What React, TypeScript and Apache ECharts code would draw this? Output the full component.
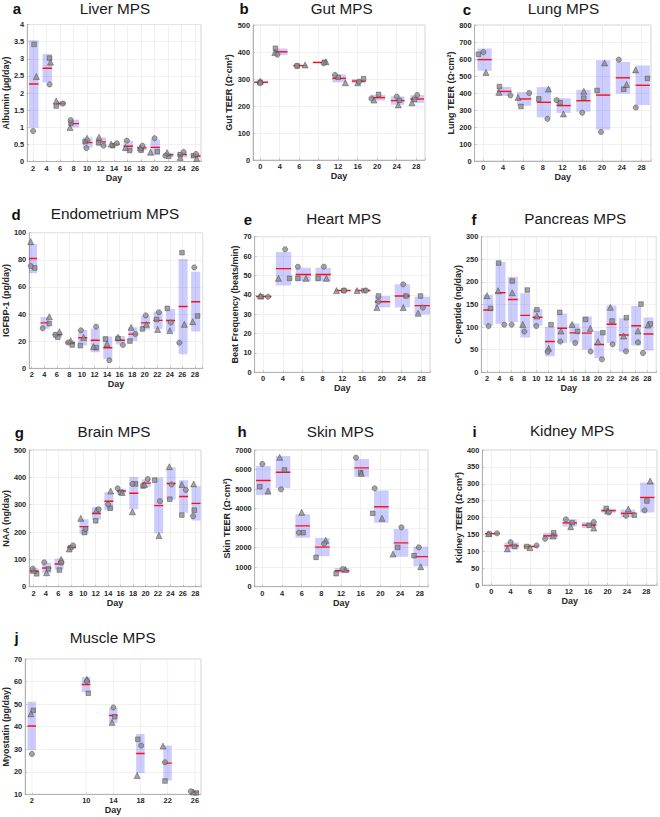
import React, { useEffect, useRef } from 'react';
import * as echarts from 'echarts';

// ---------------- data ----------------
// each group: three replicate values (circle / triangle / square) and the
// small horizontal jitter of each marker (in category units, days for Muscle)

const liverDays = ['2', '4', '6', '8', '10', '12', '14', '16', '18', '20', '22', '24', '26'];
const liverCircle = [0.89, 2.25, 1.69, 1.21, 0.39, 0.46, 0.53, 0.61, 0.46, 0.68, 0.17, 0.28, 0.22];
const liverCircleDx = [0, 0.22, 0.2, -0.22, -0.05, 0.22, 0.2, -0.05, 0.1, 0, -0.2, 0.15, 0.07];
const liverTriangle = [2.48, 2.9, 1.77, 0.99, 0.68, 0.71, 0.51, 0.41, 0.4, 0.27, 0.26, 0.12, 0.09];
const liverTriangleDx = [0.24, 0.29, -0.29, -0.27, 0, -0.12, -0.22, -0.15, -0.05, -0.3, -0.07, -0.1, 0.12];
const liverSquare = [3.42, 3.02, 1.62, 1.12, 0.58, 0.55, 0.46, 0.32, 0.33, 0.29, 0.15, 0.2, 0.17];
const liverSquareDx = [0.07, 0.22, -0.29, -0.2, -0.15, -0.15, -0.1, 0.15, 0, 0.2, 0.05, -0.1, -0.12];

const gutDays = ['0', '4', '6', '8', '12', '16', '20', '24', '28'];
const gutCircle = [284, 390, 349, 358, 315, 290, 228, 235, 241];
const gutCircleDx = [0, -0.12, -0.12, 0.25, -0.17, 0.07, -0.3, 0, 0.05];
const gutTriangle = [292, 398, 352, 364, 286, 286, 222, 204, 212];
const gutTriangleDx = [0, -0.25, 0.3, 0.37, 0.37, 0, -0.17, 0.08, -0.22];
const gutSquare = [288, 414, 348, 362, 306, 301, 243, 221, 225];
const gutSquareDx = [0, -0.22, -0.1, 0.3, 0, 0.3, 0.07, 0.14, -0.08];

const lungDays = ['0', '4', '6', '8', '12', '16', '20', '24', '28'];
const lungCircle = [640, 386, 400, 248, 358, 284, 171, 596, 314];
const lungCircleDx = [0, 0.37, 0.32, 0.24, -0.3, 0, -0.05, -0.15, -0.29];
const lungTriangle = [521, 404, 374, 423, 277, 410, 577, 450, 536];
const lungTriangleDx = [0.13, -0.22, -0.25, 0.29, 0.05, 0.08, 0.13, 0.24, -0.3];
const lungSquare = [628, 438, 321, 365, 343, 370, 415, 422, 486];
const lungSquareDx = [-0.25, -0.19, -0.1, -0.2, -0.12, 0.08, -0.25, 0.1, 0.3];

const endoDays = ['2', '4', '6', '8', '10', '12', '14', '16', '18', '20', '22', '24', '26', '28'];
const endoCircle = [75.4, 29.5, 24.6, 19.0, 28.0, 30.7, 5.9, 17.2, 25.3, 39.0, 41.3, 33.7, 18.9, 74.4];
const endoCircleDx = [-0.08, -0.13, -0.13, -0.08, -0.08, 0.13, 0.18, 0.26, 0.26, 0.08, 0.13, 0.08, -0.24, -0.05];
const endoTriangle = [93.4, 38.0, 27.0, 20.4, 22.8, 16.0, 18.0, 22.9, 30.2, 32.4, 28.7, 27.8, 32.4, 34.4];
const endoTriangleDx = [-0.08, 0.4, 0.2, 0.1, 0.13, -0.08, 0, -0.13, -0.08, 0.13, 0.03, 0, 0.16, -0.18];
const endoSquare = [74.0, 33.0, 22.9, 17.2, 16.7, 15.2, 21.6, 22.0, 20.1, 29.0, 36.0, 44.2, 85.3, 38.6];
const endoSquareDx = [0.24, 0.4, 0.08, 0.23, -0.13, 0.13, -0.13, -0.13, -0.18, -0.18, -0.05, -0.2, -0.03, 0.21];

const heartDays = ['0', '4', '6', '8', '12', '16', '20', '24', '28'];
const heartCircle = [39, 63.5, 54.5, 54.5, 42.2, 42.2, 36.5, 45.4, 33.4];
const heartCircleDx = [0.25, 0.12, -0.24, 0.07, 0.1, 0.2, -0.17, 0.08, 0.07];
const heartTriangle = [39.5, 48.5, 48.5, 48.5, 42.2, 42.2, 33.4, 33.4, 30.5];
const heartTriangleDx = [-0.13, -0.22, 0.17, 0.2, -0.29, -0.25, -0.25, 0.08, -0.17];
const heartSquare = [39, 48.5, 48.5, 48.5, 42.2, 42.2, 39.4, 39.4, 39.4];
const heartSquareDx = [-0.1, 0.34, -0.24, -0.22, 0.08, 0.1, -0.17, 0.22, -0.05];

const pancDays = ['2', '4', '6', '8', '10', '12', '14', '16', '18', '20', '22', '24', '26', '28'];
const pancCircle = [102.4, 105.4, 105.4, 90, 102.4, 45.7, 68, 64.8, 46, 28.7, 61.9, 46.4, 66.3, 42.7];
const pancCircleDx = [0.13, 0.4, 0, 0.03, 0, -0.08, -0.05, 0.16, 0.4, 0.32, 0.19, 0.27, 0.24, -0.35];
const pancTriangle = [169.5, 180.5, 176, 106, 124.5, 53, 91.4, 106, 97, 67.8, 143.7, 80.3, 91.4, 104.6];
const pancTriangleDx = [0, -0.1, 0.05, -0.1, 0.05, 0, 0, -0.1, 0.38, 0, 0, 0.08, 0.24, 0.05];
const pancSquare = [141.5, 241.7, 202, 182, 138.5, 105.4, 132.6, 90.6, 117, 87.7, 113.5, 120.9, 151, 107];
const pancSquareDx = [0.3, -0.05, 0.05, 0.27, 0.05, 0.19, -0.1, 0.35, 0, 0.4, 0.14, 0.3, 0.49, 0.24];

const brainDays = ['2', '4', '6', '8', '10', '12', '14', '16', '18', '20', '22', '24', '26', '28'];
const brainCircle = [66, 89, 88, 151, 211, 283, 301, 360, 376, 394, 313, 374, 354, 258];
const brainCircleDx = [-0.05, -0.13, 0.24, 0.18, 0.18, 0.24, 0, -0.24, -0.05, 0.18, 0.16, 0.1, 0.24, -0.18];
const brainTriangle = [60, 51, 100, 138, 250, 280, 350, 345, 274, 374, 187, 439, 374, 376];
const brainTriangleDx = [0, 0.05, 0.22, -0.13, -0.2, 0.05, 0.2, 0.13, -0.05, -0.08, 0.08, -0.08, -0.08, -0.13];
const brainSquare = [47, 65, 61, 143, 198, 241, 287, 345, 376, 368, 390, 320, 262, 280];
const brainSquareDx = [0.26, 0.2, 0.08, 0, 0.1, 0, 0.16, 0, 0.2, -0.2, -0.26, -0.05, -0.08, -0.08];

const skinDays = ['0', '4', '6', '8', '12', '16', '20', '24', '28'];
const skinCircle = [6283, 4985, 2766, 2203, 905, 6607, 5037, 3039, 2015];
const skinCircleDx = [0, -0.05, -0.15, 0.14, 0.08, -0.24, -0.29, 0.07, -0.05];
const skinTriangle = [4900, 6625, 3807, 2373, 888, 5805, 3500, 1673, 1024];
const skinTriangleDx = [0.29, -0.12, 0, 0.22, 0.22, 0.03, 0.08, -0.36, 0.05];
const skinSquare = [5122, 5976, 2766, 1502, 666, 5840, 3756, 2015, 1588];
const skinSquareDx = [-0.13, 0.12, 0.07, -0.27, -0.25, 0, -0.39, -0.12, -0.29];

const kidneyDays = ['0', '4', '6', '8', '12', '16', '20', '24', '28'];
const kidneyCircle = [153, 127, 117, 137, 194.6, 186.7, 215, 205, 221];
const kidneyCircleDx = [0.3, 0, 0.34, -0.22, -0.15, 0.29, 0.07, -0.05, -0.09];
const kidneyTriangle = [152, 107, 111, 145, 172.8, 168.9, 219, 225, 308];
const kidneyTriangleDx = [-0.14, -0.17, 0, 0.19, 0.1, 0.29, 0, 0.07, 0.2];
const kidneySquare = [151, 114, 114, 155, 184.7, 176.8, 227, 207, 249];
const kidneySquareDx = [-0.1, 0.2, -0.17, 0.22, 0.17, 0.05, -0.07, 0.38, 0.03];

const muscleDays = [2, 10, 14, 18, 22, 26];
const muscleCircle = [27.9, 60.2, 48.5, 31.6, 24.2, 11.3];
const muscleCircleDx = [0, 0.1, 0, 0.1, -0.4, -0.6];
const muscleTriangle = [45.7, 61, 41.9, 18.3, 31.4, 11.0];
const muscleTriangleDx = [-0.15, 0.1, -0.2, -0.5, -0.7, -0.25];
const muscleSquare = [47.2, 54.8, 44.4, 34.4, 15.9, 10.6];
const muscleSquareDx = [0.2, 0.3, 0.2, -0.4, -0.4, 0.2];

// ---------------- panels (layout / style) ----------------
const FONT = '"Liberation Sans", Arial, Helvetica, sans-serif';
const TXT = '#262626';

type Panel = {
  title: string; letter: string; yName: string;
  days: (string | number)[]; numericX: boolean;
  circle: number[]; circleDx: number[];
  triangle: number[]; triangleDx: number[];
  square: number[]; squareDx: number[];
  yMin: number; yMax: number; yStep: number;
  xMin: number; xMax: number;
  left: number; top: number; width: number; height: number;
  nameGap: number; titleX: number; titleY: number; letterX: number; letterY: number;
  boxL: number; boxR: number;
};

const panels: Panel[] = [
  { title: 'Liver MPS', letter: 'a', yName: 'Albumin (µg/day)', days: liverDays, numericX: false,
    circle: liverCircle, circleDx: liverCircleDx, triangle: liverTriangle, triangleDx: liverTriangleDx, square: liverSquare, squareDx: liverSquareDx,
    yMin: 0, yMax: 4, yStep: 0.5, xMin: -0.44, xMax: 12.44,
    left: 25, top: 24.5, width: 176, height: 137, nameGap: 14, titleX: 115, titleY: 8.5, letterX: 17, letterY: 8.5, boxL: -0.3, boxR: 0.4 },
  { title: 'Gut MPS', letter: 'b', yName: 'Gut TEER (Ω·cm²)', days: gutDays, numericX: false,
    circle: gutCircle, circleDx: gutCircleDx, triangle: gutTriangle, triangleDx: gutTriangleDx, square: gutSquare, squareDx: gutSquareDx,
    yMin: 0, yMax: 500, yStep: 100, xMin: -0.37, xMax: 8.45,
    left: 253, top: 25, width: 172, height: 135, nameGap: 17, titleX: 341.7, titleY: 8.5, letterX: 244, letterY: 8.5, boxL: -0.3, boxR: 0.4 },
  { title: 'Lung MPS', letter: 'c', yName: 'Lung TEER (Ω·cm²)', days: lungDays, numericX: false,
    circle: lungCircle, circleDx: lungCircleDx, triangle: lungTriangle, triangleDx: lungTriangleDx, square: lungSquare, squareDx: lungSquareDx,
    yMin: 0, yMax: 800, yStep: 100, xMin: -0.45, xMax: 8.48,
    left: 474.5, top: 25, width: 176.5, height: 136, nameGap: 17.5, titleX: 563.5, titleY: 8.5, letterX: 467, letterY: 9, boxL: -0.3, boxR: 0.42 },
  { title: 'Endometrium MPS', letter: 'd', yName: 'IGFBP-1 (pg/day)', days: endoDays, numericX: false,
    circle: endoCircle, circleDx: endoCircleDx, triangle: endoTriangle, triangleDx: endoTriangleDx, square: endoSquare, squareDx: endoSquareDx,
    yMin: 0, yMax: 100, yStep: 20, xMin: -0.2, xMax: 13.62,
    left: 26.7, top: 232.7, width: 176, height: 135.6, nameGap: 14.5, titleX: 115, titleY: 213.5, letterX: 16, letterY: 214.5, boxL: -0.3, boxR: 0.42 },
  { title: 'Heart MPS', letter: 'e', yName: 'Beat Frequency (beats/min)', days: heartDays, numericX: false,
    circle: heartCircle, circleDx: heartCircleDx, triangle: heartTriangle, triangleDx: heartTriangleDx, square: heartSquare, squareDx: heartSquareDx,
    yMin: 0, yMax: 70, yStep: 10, xMin: -0.42, xMax: 8.43,
    left: 254.7, top: 236.7, width: 175.3, height: 135.6, nameGap: 11.5, titleX: 343.7, titleY: 218.5, letterX: 248, letterY: 219, boxL: -0.35, boxR: 0.42 },
  { title: 'Pancreas MPS', letter: 'f', yName: 'C-peptide (ng/day)', days: pancDays, numericX: false,
    circle: pancCircle, circleDx: pancCircleDx, triangle: pancTriangle, triangleDx: pancTriangleDx, square: pancSquare, squareDx: pancSquareDx,
    yMin: 0, yMax: 300, yStep: 50, xMin: -0.46, xMax: 13.73,
    left: 481.3, top: 236.7, width: 175, height: 135.6, nameGap: 15.5, titleX: 575.3, titleY: 218.5, letterX: 474, letterY: 219, boxL: -0.3, boxR: 0.5 },
  { title: 'Brain MPS', letter: 'g', yName: 'NAA (ng/day)', days: brainDays, numericX: false,
    circle: brainCircle, circleDx: brainCircleDx, triangle: brainTriangle, triangleDx: brainTriangleDx, square: brainSquare, squareDx: brainSquareDx,
    yMin: 0, yMax: 500, yStep: 100, xMin: -0.34, xMax: 13.46,
    left: 25.7, top: 450, width: 175.3, height: 136.7, nameGap: 15.5, titleX: 114, titleY: 431.7, letterX: 19.3, letterY: 432.3, boxL: -0.3, boxR: 0.42 },
  { title: 'Skin MPS', letter: 'h', yName: 'Skin TEER (Ω·cm²)', days: skinDays, numericX: false,
    circle: skinCircle, circleDx: skinCircleDx, triangle: skinTriangle, triangleDx: skinTriangleDx, square: skinSquare, squareDx: skinSquareDx,
    yMin: 0, yMax: 7000, yStep: 1000, xMin: -0.39, xMax: 8.42,
    left: 254.7, top: 450, width: 173.3, height: 136.7, nameGap: 19, titleX: 340.3, titleY: 431.3, letterX: 242, letterY: 431.7, boxL: -0.32, boxR: 0.42 },
  { title: 'Kidney MPS', letter: 'i', yName: 'Kidney TEER (Ω·cm²)', days: kidneyDays, numericX: false,
    circle: kidneyCircle, circleDx: kidneyCircleDx, triangle: kidneyTriangle, triangleDx: kidneyTriangleDx, square: kidneySquare, squareDx: kidneySquareDx,
    yMin: 0, yMax: 400, yStep: 50, xMin: -0.46, xMax: 8.55,
    left: 482.3, top: 450, width: 175.7, height: 135, nameGap: 16, titleX: 572, titleY: 430.5, letterX: 474.7, letterY: 431, boxL: -0.32, boxR: 0.42 },
  { title: 'Muscle MPS', letter: 'j', yName: 'Myostatin (pg/day)', days: muscleDays, numericX: true,
    circle: muscleCircle, circleDx: muscleCircleDx, triangle: muscleTriangle, triangleDx: muscleTriangleDx, square: muscleSquare, squareDx: muscleSquareDx,
    yMin: 10, yMax: 70, yStep: 10, xMin: 1, xMax: 26.9,
    left: 24, top: 659, width: 177, height: 135.3, nameGap: 10.5, titleX: 112.7, titleY: 637, letterX: 16.7, letterY: 637.5, boxL: -0.65, boxR: 0.6 },
];

function stats(vals: number[]) {
  const n = vals.length;
  const mean = vals.reduce((a, b) => a + b, 0) / n;
  const v = vals.reduce((a, b) => a + (b - mean) * (b - mean), 0) / (n - 1);
  return { mean, sd: Math.sqrt(v) };
}

function buildOption() {
  const grid: any[] = [];
  const xAxis: any[] = [];
  const yAxis: any[] = [];
  const series: any[] = [];
  const graphic: any[] = [];

  const labelStyle = { fontSize: 7.4, fontWeight: 'bold', color: TXT, fontFamily: FONT };
  const nameStyle = { fontSize: 9, fontWeight: 'bold', color: TXT, fontFamily: FONT };
  const axisLine = { show: true, onZero: false, lineStyle: { color: '#a6a6a6', width: 0.8 } };
  const axisTick = { show: true, inside: true, length: 2, lineStyle: { color: '#a6a6a6', width: 0.6 } };
  const splitLine = { show: true, lineStyle: { color: '#ebebeb', width: 0.7 } };

  panels.forEach((p, k) => {
    grid.push({ left: p.left, top: p.top, width: p.width, height: p.height, show: true,
      borderColor: '#c4c4c4', borderWidth: 0.8, backgroundColor: '#ffffff' });

    const xPos = (i: number) => (p.numericX ? (p.days[i] as number) : i);

    if (p.numericX) {
      xAxis.push({ gridIndex: k, type: 'value', min: p.xMin, max: p.xMax,
        axisLine, splitLine: { show: false },
        axisTick: { ...axisTick, customValues: p.days },
        axisLabel: { ...labelStyle, margin: 3, customValues: p.days, formatter: (v: number) => String(v) },
        name: 'Day', nameLocation: 'middle', nameGap: 11.5, nameTextStyle: nameStyle });
    } else {
      const labels = p.days as string[];
      xAxis.push({ gridIndex: k, type: 'value', min: p.xMin, max: p.xMax, minInterval: 1, maxInterval: 1,
        splitNumber: labels.length, axisLine, axisTick, splitLine,
        axisLabel: { ...labelStyle, margin: 3, showMinLabel: true, showMaxLabel: true,
          formatter: (v: number) => {
            const r = Math.round(v);
            return Math.abs(v - r) < 1e-6 && r >= 0 && r < labels.length ? labels[r] : '';
          } },
        name: 'Day', nameLocation: 'middle', nameGap: 11.5, nameTextStyle: nameStyle });
    }

    yAxis.push({ gridIndex: k, type: 'value', min: p.yMin, max: p.yMax, interval: p.yStep,
      axisLine, axisTick, splitLine,
      axisLabel: { ...labelStyle, margin: 3, formatter: (v: number) => String(v) },
      name: p.yName, nameLocation: 'middle', nameGap: p.nameGap, nameTextStyle: nameStyle });

    // vertical grid lines for the non-uniform Muscle axis
    if (p.numericX) {
      series.push({ type: 'custom', xAxisIndex: k, yAxisIndex: k, z: 1, silent: true,
        data: p.days.map((d) => [d, p.yMin]),
        renderItem: (params: any, api: any) => {
          const a = api.coord([api.value(0), p.yMin]);
          const b = api.coord([api.value(0), p.yMax]);
          return { type: 'line', shape: { x1: a[0], y1: a[1], x2: b[0], y2: b[1] },
            style: { stroke: '#ebebeb', lineWidth: 0.7 } };
        } });
    }

    // mean ± SD boxes with red mean line
    const boxData = p.days.map((_, i) => {
      const s = stats([p.circle[i], p.triangle[i], p.square[i]]);
      return [xPos(i), s.mean, s.sd];
    });
    series.push({ type: 'custom', xAxisIndex: k, yAxisIndex: k, z: 2, clip: true, silent: true,
      dimensions: ['x', 'mean', 'sd'], encode: { x: 0, y: 1 }, data: boxData,
      renderItem: (params: any, api: any) => {
        const x = api.value(0), m = api.value(1), s = api.value(2);
        const tl = api.coord([x + p.boxL, m + s]);
        const br = api.coord([x + p.boxR, m - s]);
        const ml = api.coord([x + p.boxL, m]);
        const mr = api.coord([x + p.boxR, m]);
        return { type: 'group', children: [
          { type: 'rect', shape: { x: tl[0], y: tl[1], width: br[0] - tl[0], height: Math.max(br[1] - tl[1], 0.5) },
            style: { fill: 'rgba(40,40,255,0.24)' } },
          { type: 'line', shape: { x1: ml[0], y1: ml[1], x2: mr[0], y2: mr[1] },
            style: { stroke: '#ff1010', lineWidth: 1.4 } },
        ] };
      } });

    const marker = { color: '#8c8c8c', borderColor: '#3a3a3a', borderWidth: 0.55 };
    const mk = (vals: number[], dx: number[], symbol: string, size: number, z: number) => ({
      type: 'scatter', xAxisIndex: k, yAxisIndex: k, symbol, symbolSize: size, z, silent: true,
      itemStyle: marker,
      data: vals.map((v, i) => [xPos(i) + dx[i], v]),
    });
    series.push(mk(p.square, p.squareDx, 'rect', 4.6, 3));
    series.push(mk(p.triangle, p.triangleDx, 'triangle', 6, 4));
    series.push(mk(p.circle, p.circleDx, 'circle', 5.2, 5));

    graphic.push({ type: 'text', x: p.titleX, y: p.titleY, silent: true,
      style: { text: p.title, fontSize: 15.3, fontFamily: FONT, fill: '#1a1a1a',
        align: 'center', verticalAlign: 'middle', textAlign: 'center', textVerticalAlign: 'middle' } });
    graphic.push({ type: 'text', x: p.letterX, y: p.letterY, silent: true,
      style: { text: p.letter, fontSize: 15, fontWeight: 'bold', fontFamily: FONT, fill: '#111',
        align: 'center', verticalAlign: 'middle', textAlign: 'center', textVerticalAlign: 'middle' } });
  });

  return { animation: false, backgroundColor: '#ffffff', grid, xAxis, yAxis, series, graphic };
}

export default function App() {
  const ref = useRef<HTMLDivElement>(null);
  useEffect(() => {
    if (!ref.current) return;
    const chart = echarts.init(ref.current, null, { renderer: 'svg' });
    chart.setOption(buildOption() as any);
    return () => chart.dispose();
  }, []);
  return (
    <div
      ref={ref}
      style={{ position: 'absolute', left: 0, top: 0, width: 660, height: 817, background: '#ffffff' }}
    />
  );
}
